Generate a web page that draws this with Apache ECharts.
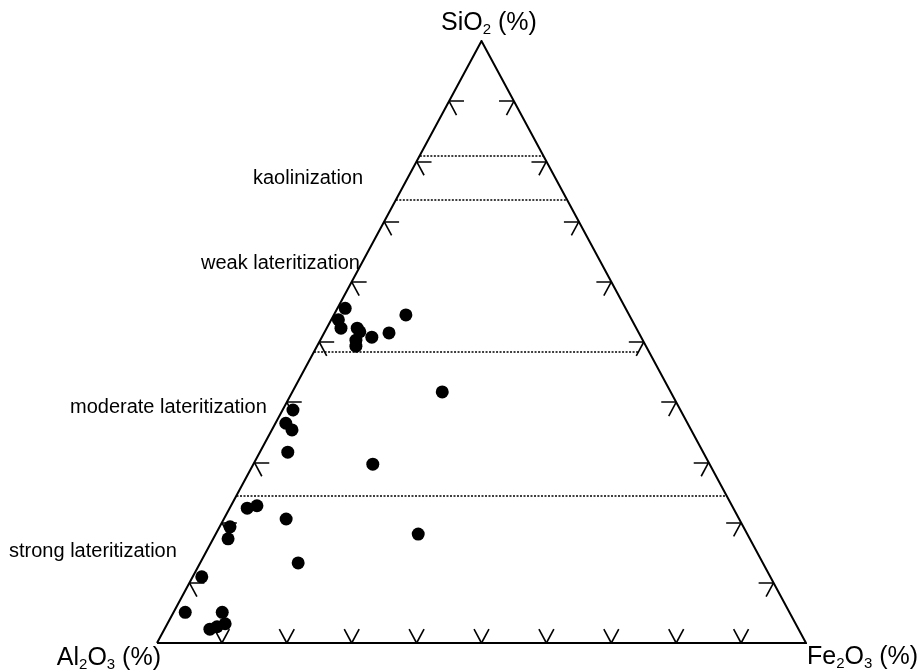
<!DOCTYPE html>
<html>
<head>
<meta charset="utf-8">
<script src="https://cdn.jsdelivr.net/npm/echarts@6/dist/echarts.min.js"></script>
<style>
  html, body { margin: 0; padding: 0; background: #fff; }
  #chart { width: 922px; height: 670px; }
</style>
</head>
<body>
<div id="chart"></div>
<script>
// Sample compositions (%), one entry per sample
const sio2  = [55.6, 53.7, 52.3, 52.3, 51.7, 50.3, 49.3, 50.8, 51.5, 54.5,
               38.7, 36.5, 35.4, 31.7, 29.7, 41.7,
               22.4, 22.8, 19.3, 17.3, 20.6, 13.3, 18.1,
               11.0, 5.1, 5.1, 2.3, 2.7, 3.2];
const al2o3 = [43.2, 45.2, 45.5, 43.0, 42.9, 44.2, 44.7, 41.5, 38.5, 34.4,
               59.7, 61.9, 61.5, 64.0, 51.9, 35.2,
               74.9, 73.2, 79.1, 80.4, 69.8, 71.6, 50.7,
               87.6, 93.1, 87.4, 90.7, 89.4, 87.9];
const fe2o3 = [1.2, 1.1, 2.2, 4.7, 5.4, 5.5, 6.0, 7.7, 10.0, 11.1,
               1.6, 1.6, 3.1, 4.3, 18.4, 23.1,
               2.7, 4.0, 1.6, 2.3, 9.6, 15.1, 31.2,
               1.4, 1.8, 7.5, 7.0, 7.9, 8.9];

// Zone boundaries: SiO2 level and Fe2O3 value at the right-hand end
const boundarySiO2  = [81.0, 73.6, 48.4, 24.5];
const boundaryFeEnd = [19.0, 26.4, 49.9, 75.5];

// Zone names
const zoneNames = ['kaolinization', 'weak lateritization', 'moderate lateritization', 'strong lateritization'];

// Tick positions along each side (%)
const tickValues = [10, 20, 30, 40, 50, 60, 70, 80, 90];

const TICK = 2.3;     // tick arm length in composition units
const FONT = 'Liberation Sans, Arial, Helvetica, sans-serif';

// ternary (SiO2, Al2O3, Fe2O3) -> plane, SiO2 at the apex, Fe2O3 bottom-right
function toXY(s, a, f) {
  const t = s + a + f;
  const S = s / t * 100, F = f / t * 100;
  return [F + S / 2, S];
}

const points = sio2.map((s, i) => toXY(s, al2o3[i], fe2o3[i]));

const frame = [toXY(0, 100, 0), toXY(100, 0, 0), toXY(0, 0, 100), toXY(0, 100, 0)];

const boundaries = boundarySiO2.map((s, i) => ({
  coords: [toXY(s, 100 - s, 0), toXY(s, 100 - s - boundaryFeEnd[i], boundaryFeEnd[i])]
}));

const ticks = [];
tickValues.forEach(t => {
  // left side (SiO2 - Al2O3), "<" arrow
  const L = toXY(t, 100 - t, 0);
  ticks.push({ coords: [L, toXY(t, 100 - t - TICK, TICK)] });
  ticks.push({ coords: [L, toXY(t - TICK, 100 - t, TICK)] });
  // right side (SiO2 - Fe2O3), ">" arrow
  const R = toXY(t, 0, 100 - t);
  ticks.push({ coords: [R, toXY(t, TICK, 100 - t - TICK)] });
  ticks.push({ coords: [R, toXY(t - TICK, TICK, 100 - t)] });
  // base (Al2O3 - Fe2O3), "V"
  const B = toXY(0, 100 - t, t);
  ticks.push({ coords: [B, toXY(TICK, 100 - t - TICK, t)] });
  ticks.push({ coords: [B, toXY(TICK, 100 - t, t - TICK)] });
});

const zonePos = [[253, 178], [201, 263], [70, 407], [9, 551]];

function formula(parts) {
  // parts: [main, sub, main, sub, ...]
  return parts.map((p, i) => p === '' ? '' : (i % 2 === 0 ? '{n|' + p + '}' : '{s|' + p + '}')).join('');
}
const richStyle = {
  n: { fontSize: 25, fontFamily: FONT, fill: '#000' },
  s: { fontSize: 15, fontFamily: FONT, fill: '#000', padding: [13, 0, 0, 0] }
};

const graphics = [];
zoneNames.forEach((name, i) => {
  graphics.push({
    type: 'text', x: zonePos[i][0], y: zonePos[i][1], silent: true,
    style: { text: name, font: '20px ' + FONT, fill: '#000', align: 'left', verticalAlign: 'middle' }
  });
});
graphics.push({
  type: 'text', x: 489, y: 23, silent: true,
  style: { text: formula(['SiO', '2', ' (%)']), rich: richStyle, align: 'center', verticalAlign: 'middle' }
});
graphics.push({
  type: 'text', x: 161, y: 658, silent: true,
  style: { text: formula(['Al', '2', 'O', '3', ' (%)']), rich: richStyle, align: 'right', verticalAlign: 'middle' }
});
graphics.push({
  type: 'text', x: 807, y: 657, silent: true,
  style: { text: formula(['Fe', '2', 'O', '3', ' (%)']), rich: richStyle, align: 'left', verticalAlign: 'middle' }
});

const chart = echarts.init(document.getElementById('chart'), null, { renderer: 'canvas' });
chart.setOption({
  animation: false,
  backgroundColor: '#fff',
  grid: { left: 157, top: 41, width: 649, height: 602 },
  xAxis: { type: 'value', min: 0, max: 100, show: false },
  yAxis: { type: 'value', min: 0, max: 100, show: false },
  graphic: graphics,
  series: [
    {
      type: 'lines', coordinateSystem: 'cartesian2d', silent: true, z: 2,
      lineStyle: { color: '#000', width: 1.5, type: [2, 1.5], opacity: 1 },
      data: boundaries
    },
    {
      type: 'line', silent: true, z: 3, symbol: 'none',
      lineStyle: { color: '#000', width: 2, join: 'miter' },
      data: frame
    },
    {
      type: 'lines', coordinateSystem: 'cartesian2d', silent: true, z: 3,
      lineStyle: { color: '#000', width: 1.6, opacity: 1 },
      data: ticks
    },
    {
      type: 'scatter', z: 4, symbol: 'circle', symbolSize: 13,
      itemStyle: { color: '#000', opacity: 1 },
      data: points
    }
  ]
});
</script>
</body>
</html>
